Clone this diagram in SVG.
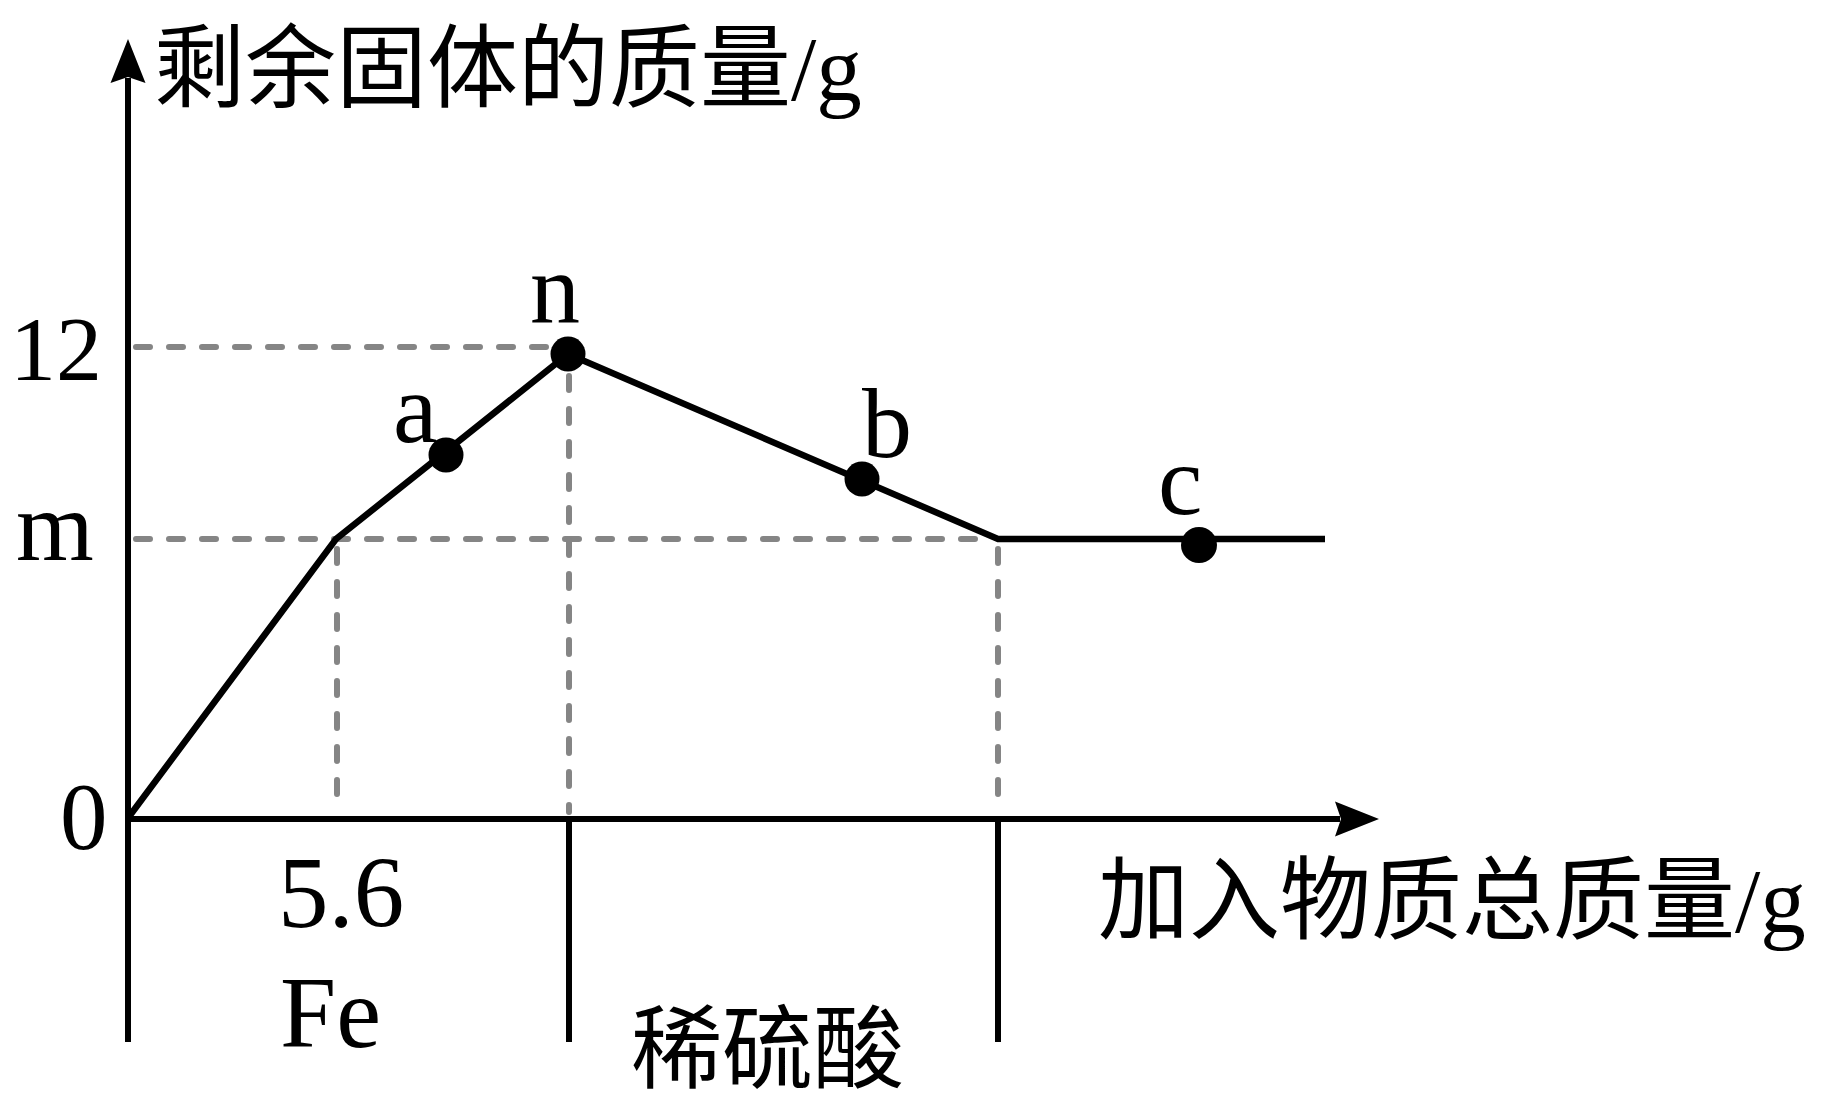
<svg xmlns="http://www.w3.org/2000/svg" width="1830" height="1108" viewBox="0 0 1830 1108">
<style>
.bg{fill:#ffffff}
.axis{stroke:#000;stroke-width:6;fill:none}
.curve{stroke:#000;stroke-width:6.5;fill:none;stroke-linejoin:miter}
.dash{stroke:#858585;stroke-width:6;fill:none;stroke-dasharray:14 19;stroke-linecap:round}
.dot{fill:#000}
.t{font-family:"Liberation Serif","Noto Sans CJK SC",serif;fill:#000}
.cjk{font-family:"Liberation Serif","Noto Sans CJK SC",serif;font-size:91px;fill:#000}
</style>
<rect class="bg" x="0" y="0" width="1830" height="1108"/>
<g id="guides">
<line class="dash" x1="136" y1="347" x2="552" y2="347"/>
<line class="dash" x1="136" y1="539" x2="992" y2="539"/>
<line class="dash" x1="337" y1="549" x2="337" y2="812"/>
<line class="dash" x1="569" y1="376" x2="569" y2="812"/>
<line class="dash" x1="998" y1="549" x2="998" y2="812"/>
</g>
<g id="axes">
<line class="axis" x1="128" y1="1042" x2="128" y2="78"/>
<polygon points="128,39 145.5,83 128,77 110.5,83" fill="#000"/>
<line class="axis" x1="125" y1="819" x2="1340" y2="819"/>
<polygon points="1379,819 1335,836.5 1341,819 1335,801.5" fill="#000"/>
<line class="axis" x1="569" y1="819" x2="569" y2="1042"/>
<line class="axis" x1="998" y1="819" x2="998" y2="1042"/>
</g>
<g id="connectors">
<polyline class="curve" points="128,818 336,539 568,354 998,539 1325,539"/>
</g>
<g id="node-n"><circle class="dot" cx="568" cy="354" r="17.5"/><text class="t" x="530" y="322" font-size="100">n</text></g>
<g id="node-a"><circle class="dot" cx="446" cy="455" r="17.5"/><text class="t" x="393" y="442" font-size="100">a</text></g>
<g id="node-b"><circle class="dot" cx="862" cy="479" r="17.5"/><text class="t" x="862" y="457" font-size="100">b</text></g>
<g id="node-c"><circle class="dot" cx="1199" cy="545" r="18"/><text class="t" x="1158" y="514" font-size="100">c</text></g>
<g id="labels">
<text class="cjk" x="154" y="100">剩余固体的质量/g</text>
<text class="cjk" x="1098" y="932">加入物质总质量/g</text>
<text class="cjk" x="631" y="1081">稀硫酸</text>
<text class="t" x="10" y="380" font-size="92">12</text>
<text class="t" x="16" y="560" font-size="100">m</text>
<text class="t" x="60" y="849" font-size="95">0</text>
<text class="t" x="278" y="927" font-size="101">5.6</text>
<text class="t" x="280" y="1047" font-size="101">Fe</text>
</g>
</svg>
